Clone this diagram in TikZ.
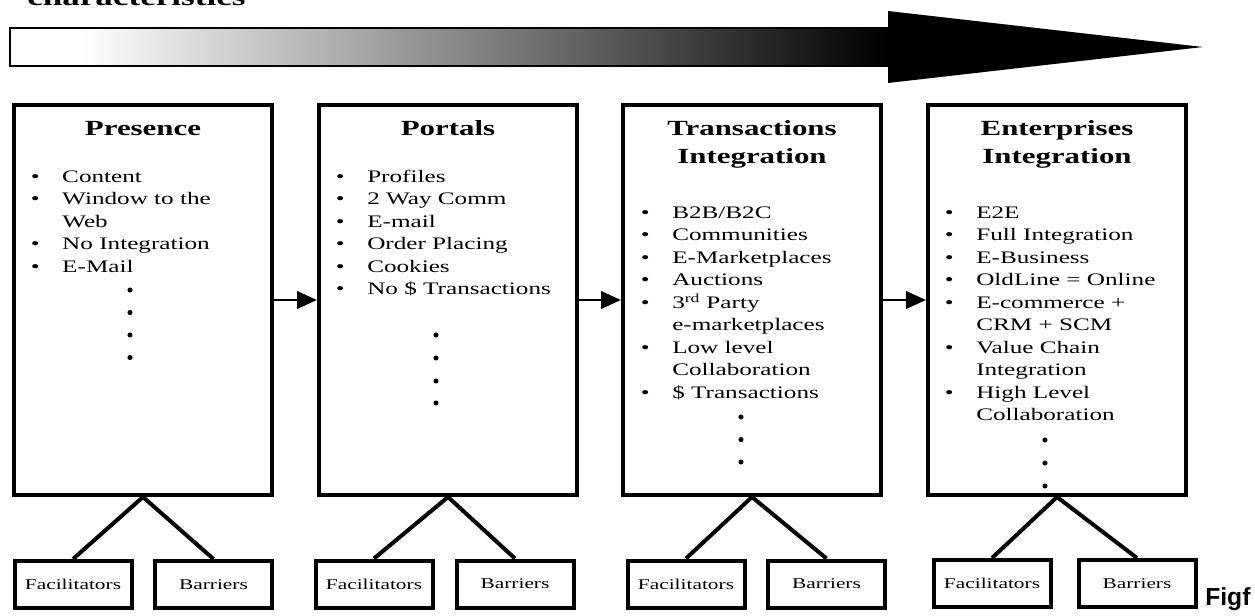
\documentclass[tikz,border=0pt]{standalone}
\usepackage{fontspec}
\setmainfont[FakeStretch=1.43]{Liberation Serif}
\newfontfamily\figfont{Liberation Sans}
\usetikzlibrary{arrows.meta}
\newcommand\bul{\llap{\textbullet\hspace{17pt}}}
\begin{document}
\begin{tikzpicture}[x=0.75pt,y=-0.75pt,
  bigbox/.style={draw, line width=3pt, minimum width=193.5pt, minimum height=292.5pt, inner sep=0pt},
  smallbox/.style={draw, line width=3pt, minimum width=87.75pt, minimum height=35.25pt, inner sep=0pt, font=\fontsize{11.2}{13}\selectfont},
  leg/.style={line width=3pt},
  flow/.style={line width=2.2pt, -{Triangle[length=15pt,width=13pt]}},
  ttl/.style={anchor=base, font=\bfseries\fontsize{16.2}{19}\selectfont, inner sep=0pt},
  itm/.style={anchor=base west, font=\fontsize{13.2}{16}\selectfont, inner sep=0pt}]
\useasboundingbox (0,0) rectangle (1255,615);
\clip (0,0) rectangle (1255,615);

% heading (cut at the top)
\node[anchor=base west, font=\bfseries\fontsize{18.4}{20}\selectfont, inner sep=0pt] (cap) at (27,5) {characteristics};

% gradient arrow
\fill[white] (10,28) rectangle (80,66);
\shade[left color=white, right color=black] (80,28) rectangle (888,66);
\draw[line width=1.5pt] (10,28) rectangle (888,66);
\fill (888,11) -- (1203,47) -- (888,83) -- cycle;

% big boxes
\node[bigbox] (p1) at (143,300) {};
\node[bigbox] (p2) at (448,300) {};
\node[bigbox] (p3) at (752,300) {};
\node[bigbox] (p4) at (1057,300) {};

\draw[flow] (p1.east) -- (p2.west);
\draw[flow] (p2.east) -- (p3.west);
\draw[flow] (p3.east) -- (p4.west);

% titles
\node[ttl] (t1) at (143,135) {Presence};
\node[ttl] (t2) at (448,135) {Portals};
\node[ttl] (t3a) at (752,135) {Transactions};
\node[ttl] (t3b) at (752,163) {Integration};
\node[ttl] (t4a) at (1057,135) {Enterprises};
\node[ttl] (t4b) at (1057,163) {Integration};

% lists
\foreach \t [count=\i] in {{\bul Content},{\bul Window to the},Web,{\bul No Integration},{\bul E-Mail}}
  \node[itm] (la\i) at (62,{182+22.5*(\i-1)}) {\t};
\foreach \y in {290,312.5,335,357.5} \fill (130,\y) circle (1.9pt);

\foreach \t [count=\i] in {{\bul Profiles},{\bul 2 Way Comm},{\bul E-mail},{\bul Order Placing},{\bul Cookies},{\bul No \$ Transactions}}
  \node[itm] (lb\i) at (367,{182+22.5*(\i-1)}) {\t};
\foreach \y in {335,358,381,403} \fill (436,\y) circle (1.9pt);

\foreach \t [count=\i] in {{\bul B2B/B2C},{\bul Communities},{\bul E-Marketplaces},{\bul Auctions},{\bul 3\textsuperscript{rd} Party},e-marketplaces,{\bul Low level},Collaboration,{\bul \$ Transactions}}
  \node[itm] (lc\i) at (672,{218+22.5*(\i-1)}) {\t};
\foreach \y in {417,439.5,462} \fill (741,\y) circle (1.9pt);

\foreach \t [count=\i] in {{\bul E2E},{\bul Full Integration},{\bul E-Business},{\bul OldLine = Online},{\bul E-commerce +},CRM + SCM,{\bul Value Chain},Integration,{\bul High Level},Collaboration}
  \node[itm] (ld\i) at (976,{218+22.5*(\i-1)}) {\t};
\foreach \y in {440,463,486} \fill (1045,\y) circle (1.9pt);

% facilitators / barriers
\node[smallbox] (f1) at (73,584.5) {Facilitators};
\node[smallbox] (b1) at (213.5,584.5) {Barriers};
\node[smallbox] (f2) at (374,584) {Facilitators};
\node[smallbox] (b2) at (515,584) {Barriers};
\node[smallbox] (f3) at (686,584) {Facilitators};
\node[smallbox] (b3) at (826.5,584) {Barriers};
\node[smallbox] (f4) at (992,583.5) {Facilitators};
\node[smallbox] (b4) at (1137,583.5) {Barriers};

\foreach \k in {1,2,3,4} {
  \draw[leg] (p\k.south) -- (f\k.north);
  \draw[leg] (p\k.south) -- (b\k.north);
}

\node[anchor=base west, font=\figfont\bfseries\fontsize{18.5}{20}\selectfont, inner sep=0pt] (fig) at (1205,605) {Figf};
\end{tikzpicture}
\end{document}
